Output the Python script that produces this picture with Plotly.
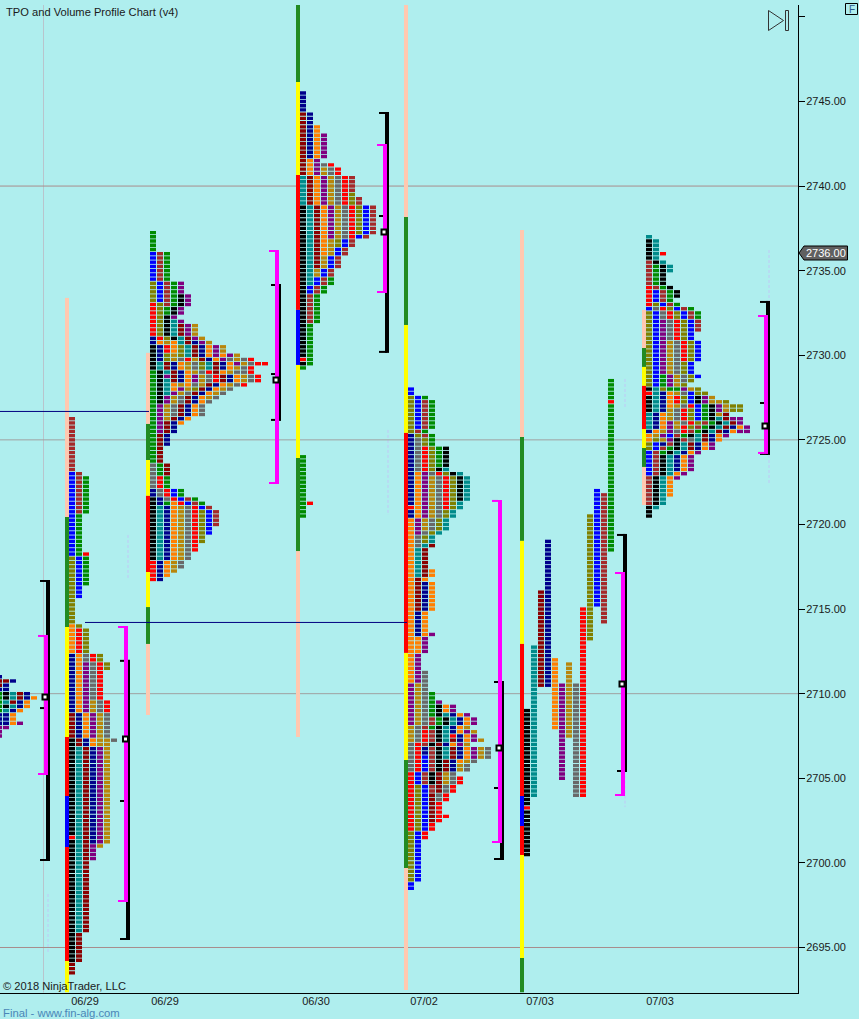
import plotly.graph_objects as go

W, H = 859, 1019
X_MAX = 798
Y_TOP_PX, Y_BOT_PX = 5, 992.5
P_TOP, P_BOT = 2750.70, 2692.34

BG = "#afeeee"
COLORS = {
    "b": "#0000ff", "n": "#00008b", "g": "#008b00", "r": "#ff0000", "m": "#8b0000",
    "B": "#a52a2a", "o": "#808000", "O": "#ff7f00", "p": "#800080", "y": "#b8860b",
    "t": "#008b8b", "k": "#000000", "s": "#696969",
    "P": "#ffc8b0", "G": "#228b22", "Y": "#ffff00",
}
TICK_SIZE = 0.25

# TPO profiles: (rows repeated, letter colours in that row)
A_ROWS = [(1, "n"), (1, "mmn"), (1, "mn"), (1, "nn"), (1, "gktmn"), (1, "gktmnO"), (1, "gtmnO"),
          (1, "gktnO"), (1, "gtnO"), (2, "nnO"), (1, "nnOp"), (1, "pp"), (2, "p")]
B_ROWS = [(13, "B"), (1, "bB"), (9, "bBg"), (9, "bg"), (1, "bgr"), (7, "obg"), (3, "ob"), (6, "o"),
          (1, "Oo"), (6, "Oro"), (2, "nOsro"), (2, "nOpsro"), (7, "nOpsr"), (3, "nOpysr"),
          (6, "mnOpys"), (1, "kmnOyys"), (1, "kmnOyy"), (21, "ktmnpy"), (1, "rtmnpy"), (1, "ktmnpy"),
          (1, "ktmpy"), (3, "ktmp"), (17, "ktm"), (7, "km"), (3, "m")]
C_ROWS = [(5, "g"), (7, "bBg"), (3, "obBgp"), (2, "obBgkp"), (1, "roBgkp"), (2, "rogkp"), (1, "rokp"),
          (1, "roktp"), (3, "roktmpy"), (1, "nroktmpy"), (1, "nOyOtmnpy"), (2, "knrOotmnOpy"),
          (1, "knoyotmnOpOpy"), (1, "knoysrymnOpsysr"), (1, "ktmnOysotmnOpysrr"), (1, "ktmnOysotmnOysr"),
          (1, "gktmnOysrmOyssr"), (1, "gkpmnOpysrmnOysr"), (1, "gktmnOpysrmnOysr"), (1, "gktOyOsymnOysr"),
          (1, "gktOpyomnOys"), (1, "gktpysmnOys"), (1, "gkpysmnOys"), (1, "gkpysmnOs"), (3, "gpysmnOs"),
          (1, "gpymnO"), (1, "gpmnO"), (2, "gpmn"), (3, "gmn"), (4, "gm"), (3, "sgm"), (3, "srg"),
          (2, "nsrbg"), (1, "knsrbBg"), (1, "kngOrbBg"), (1, "ktnOysrbB"), (4, "ktnOysrobB"),
          (2, "ktnOysrob"), (2, "ktnOysro"), (2, "ktnOysr"), (2, "ktnOys"), (2, "rnOys"), (1, "rnOy"),
          (1, "rnO"), (1, "rn")]
D_ROWS = [(5, "n"), (3, "mn"), (2, "mnO"), (6, "mnOp"), (1, "mOp"), (1, "mOpsr"), (2, "mOpysr"),
          (4, "tmOpysrB"), (1, "tmOpysro"), (2, "tmOpysroB"), (7, "ktmOpysrobB"), (1, "ktmOpysrbB"),
          (2, "ktmOyobB"), (2, "ktmOybB"), (3, "ktmybB"), (2, "ktybB"), (2, "ktbBg"), (2, "kbBg"),
          (7, "kBg"), (8, "kg"), (1, "rg"), (1, "kg"), (1, "g")]
D2_ROWS = [(11, "g"), (1, "gr"), (3, "g")]
E_ROWS = [(2, "b"), (1, "obg"), (7, "obBg"), (1, "oBg"), (1, "noBg"), (2, "nsog"), (5, "nsrogk"),
          (1, "nsrokt"), (1, "nOpsrokt"), (6, "nOpysrokt"), (1, "nOpysrot"), (1, "rOpysrot"),
          (2, "nOpysot"), (3, "Opysot"), (1, "Opsot"), (2, "Osot"), (1, "Ostm"), (5, "Otm"), (2, "OtmO"),
          (1, "OmO"), (7, "OmnO"), (5, "OnO"), (1, "OnOp"), (4, "OOp"), (4, "Op"), (3, "Ops"), (2, "pys"),
          (2, "pysg"), (1, "pysgp"), (2, "pysgkOp"), (1, "pysgktnOp"), (2, "pysBgktnOp"),
          (1, "ysBgktnOy"), (1, "ysrBktnOpy"), (1, "ysrBktrnOp"), (1, "ysrBktmnOpy"), (1, "srBkmnOpy"),
          (2, "srnBktmnOpys"), (1, "srbBktmnOpys"), (1, "srbBkmnOys"), (2, "srbBkmnys"), (1, "rbBkmys"),
          (2, "rbBkmysr"), (2, "robBmsr"), (2, "robmsr"), (3, "robmr"), (1, "robmrr"), (1, "robmr"),
          (2, "robr"), (2, "obr"), (10, "ob"), (2, "b")]
G_ROWS = [(1, "t"), (3, "kt"), (1, "ktr"), (1, "kt"), (1, "Bkt"), (2, "Bgkt"), (3, "Bgk"), (1, "rBgk"),
          (2, "rbBgk"), (1, "rbBg"), (1, "robBg"), (1, "bsrobBg"), (2, "obsrobBg"), (3, "obpsrobB"),
          (2, "obpsrob"), (5, "obpysrob"), (3, "obpysob"), (1, "obgpysob"), (1, "obgpyso"), (1, "obgpyo"),
          (1, "ktoggpyo"), (1, "rtnOysboo"), (1, "ktnOrobkpy"), (1, "ktnOrobkpyyo"),
          (1, "ktnOysrbgkpyoo"), (1, "ktnysrobgkpyoo"), (1, "tnOysrobgkym"), (1, "tnOysrobgktmpp"),
          (1, "tnOpysroBgktmp"), (1, "tnOpyroBgktmnOp"), (1, "nOypsrBgktmnOpp"), (1, "OypbBgktmnOp"),
          (1, "OoypkBstmnO"), (1, "obnBktmnOp"), (1, "obBgktmnOp"), (1, "bBgktnOp"), (4, "bBktnOp"),
          (1, "bBktOp"), (1, "BktOp"), (4, "BktO"), (2, "Bkt"), (1, "kt"), (2, "k")]

# name, rows, x of first column, price of top row
PROFILE_ROWS = [A_ROWS, B_ROWS, C_ROWS, D_ROWS, D2_ROWS, E_ROWS, G_ROWS]
PROFILE_X = [-1, 72, 153, 303, 303, 411, 649]
PROFILE_TOP = [2711.0, 2726.25, 2737.25, 2745.5, 2724.0, 2728.0, 2737.0]

# 07/03 first profile, stored by column: column number, colour, top price, rows
F_X = 527
F_COLUMNS = [(0, "k", 2709.0, 23), (0, "r", 2703.25, 1), (0, "k", 2703.0, 11), (1, "t", 2712.75, 36),
             (2, "m", 2716.0, 23), (3, "n", 2719.0, 35), (4, "O", 2712.0, 17), (5, "p", 2710.5, 23),
             (6, "y", 2711.75, 18), (7, "s", 2710.5, 27), (8, "r", 2715.0, 45), (9, "o", 2720.5, 30),
             (10, "b", 2722.0, 28), (11, "B", 2721.75, 31), (12, "g", 2728.5, 5), (12, "r", 2727.25, 1),
             (12, "g", 2727.0, 35)]

# period strips: x, breakpoints in price, colours
STRIP_X = [67, 148, 298, 406, 522, 644]
STRIP_PRICES = [
    [2733.39, 2720.44, 2713.94, 2707.44, 2703.95, 2700.94, 2694.20, 2692.34],
    [2730.14, 2725.94, 2723.81, 2721.69, 2717.19, 2715.12, 2712.94, 2708.74],
    [2750.70, 2746.15, 2740.66, 2732.68, 2729.43, 2723.93, 2718.43, 2707.44],
    [2750.70, 2738.17, 2731.79, 2725.41, 2712.41, 2706.08, 2699.70, 2692.49],
    [2737.41, 2725.17, 2719.03, 2712.94, 2703.95, 2702.18, 2700.47, 2694.38, 2692.34],
    [2732.68, 2730.43, 2729.31, 2728.19, 2725.64, 2724.52, 2723.40, 2721.15],
]
STRIP_COLORS = ["PGYrbrY", "PGYrYGP", "GYrbYGP", "PGYrYGP", "PGYrbrYG", "PGYrYGP"]

# value-area brackets
BLACK_X = [48, 128, 279, 387, 502, 625, 768]
BLACK_TOP = [2716.72, 2712.00, 2734.21, 2744.38, 2710.75, 2719.44, 2733.21]
BLACK_BOT = [2700.11, 2695.44, 2726.12, 2730.14, 2700.17, 2705.37, 2724.11]
BLACK_MID = [2709.15, 2703.66, 2728.89, 2738.23, 2704.43, 2705.43, 2727.18]
MAGENTA_X = [46, 126, 277, 385, 500, 623, 766]
MAGENTA_TOP = [2713.47, 2714.00, 2736.22, 2742.49, 2721.45, 2717.19, 2732.38]
MAGENTA_BOT = [2705.19, 2697.69, 2722.39, 2733.68, 2701.18, 2703.95, 2724.17]
POC_X = [45, 125.5, 276, 384, 499, 622, 765]
POC_P = [2709.81, 2707.32, 2728.54, 2737.29, 2706.79, 2710.57, 2725.82]

H_LINES = [2740, 2725, 2710, 2695]
H_LINE_COLORS = ["#a88c8c", "#a0a0a0", "#a0a0a0", "#a88c8c"]
NAVY_LINES = [(0, 149, 2726.68), (85, 407, 2714.21)]
FAINT_LINES = [(48, 2698.16, 2694.68), (128, 2719.38, 2716.72), (388, 2725.59, 2720.56),
               (625, 2728.60, 2726.94), (769, 2736.22, 2722.33), (625, 2709.0, 2703.3)]

Y_TICKS = [2695, 2700, 2705, 2710, 2715, 2720, 2725, 2730, 2735, 2740, 2745, 2750]
Y_LABELS = ["2695.00", "2700.00", "2705.00", "2710.00", "2715.00", "2720.00", "2725.00", "2730.00",
            "2735.00", "2740.00", "2745.00", ""]
X_TICKS = [85, 165, 316, 424, 540, 660]
X_LABELS = ["06/29", "06/29", "06/30", "07/02", "07/03", "07/03"]
LAST_PRICE = "2736.00"

PT = 16.92
CELL_H = 3.4 / PT
TICK_H = 2.0 / PT


def collect(layer, color, x, width, top, height):
    d = layer.setdefault(color, ([], [], [], []))
    d[0].append(x)
    d[1].append(width)
    d[2].append(top - height)
    d[3].append(height)


fig = go.Figure()


def flush(layer):
    for color, (xs, ws, bases, hs) in layer.items():
        fig.add_trace(go.Bar(x=xs, width=ws, base=bases, y=hs, marker=dict(color=color, line=dict(width=0)),
                             hoverinfo="skip", showlegend=False))


# strips
strips = {}
for x, prices, codes in zip(STRIP_X, STRIP_PRICES, STRIP_COLORS):
    for i, c in enumerate(codes):
        collect(strips, COLORS[c], x, 4, prices[i], prices[i] - prices[i + 1])
flush(strips)

# cells
cells = {}
for rows, x0, top in zip(PROFILE_ROWS, PROFILE_X, PROFILE_TOP):
    i = 0
    for n, codes in rows:
        for _ in range(n):
            price = top - i * TICK_SIZE
            for j, c in enumerate(codes):
                collect(cells, COLORS[c], x0 + 7 * j, 6, price + CELL_H / 2, CELL_H)
            i += 1
for col, c, top, n in F_COLUMNS:
    for i in range(n):
        collect(cells, COLORS[c], F_X + 7 * col, 6, top - i * TICK_SIZE + CELL_H / 2, CELL_H)
flush(cells)

# faint dashed lines, behind the brackets (bars are drawn in one layer, so these go on shapes below)
shapes = []
for x, p0, p1 in FAINT_LINES:
    shapes.append(dict(type="line", xref="x", yref="y", x0=x, x1=x, y0=p0, y1=p1,
                       line=dict(color="#bfc8f6", width=1, dash="3px,2px"), layer="below"))

# brackets
black = {}
for x, t, b, m in zip(BLACK_X, BLACK_TOP, BLACK_BOT, BLACK_MID):
    collect(black, "#000000", x, 4, t, t - b)
    collect(black, "#000000", x - 4, 8, t, TICK_H)
    collect(black, "#000000", x - 4, 8, b + TICK_H, TICK_H)
    collect(black, "#000000", x - 4, 8, m + TICK_H / 2, TICK_H)
flush(black)
mag = {}
for x, t, b in zip(MAGENTA_X, MAGENTA_TOP, MAGENTA_BOT):
    collect(mag, "#ff00ff", x, 4, t, t - b)
    collect(mag, "#ff00ff", x - 5, 6, t, TICK_H)
    collect(mag, "#ff00ff", x - 5, 6, b + TICK_H, TICK_H)
flush(mag)

fig.add_trace(go.Scatter(x=POC_X, y=POC_P, mode="markers", hoverinfo="skip", showlegend=False,
                         marker=dict(symbol="square", size=5, color="#ffffff", line=dict(color="#000000", width=2))))

for x0, x1, p in NAVY_LINES:
    fig.add_trace(go.Scatter(x=[x0, x1], y=[p, p], mode="lines", hoverinfo="skip", showlegend=False,
                             line=dict(color="#000080", width=1)))

for p, c in zip(H_LINES, H_LINE_COLORS):
    shapes.append(dict(type="line", xref="x", yref="y", x0=0, x1=X_MAX, y0=p, y1=p,
                       line=dict(color=c, width=1), layer="below"))
shapes.append(dict(type="line", xref="x", yref="paper", x0=43.5, x1=43.5, y0=1 - Y_BOT_PX / H, y1=1 - Y_TOP_PX / H,
                   line=dict(color="#b8c4cc", width=1), layer="below"))


def PX(x):
    return x / W


def PY(y):
    return 1 - y / H


def poly(pts):
    return "M " + " L ".join(f"{PX(x)} {PY(y)}" for x, y in pts) + " Z"


shapes += [
    dict(type="path", xref="paper", yref="paper", path=poly([(799, 253), (804, 246), (847.5, 246), (847.5, 260), (804, 260)]),
         fillcolor="#606060", line=dict(color="#000000", width=1)),
    dict(type="path", xref="paper", yref="paper", path=poly([(768.5, 10.5), (783.5, 20.5), (768.5, 30.5)]),
         line=dict(color="#333333", width=1)),
    dict(type="rect", xref="paper", yref="paper", x0=PX(785.5), x1=PX(788.5), y0=PY(30.5), y1=PY(10.5),
         line=dict(color="#333333", width=1)),
    dict(type="rect", xref="paper", yref="paper", x0=PX(845.5), x1=PX(857.5), y0=PY(14.5), y1=PY(3.5),
         line=dict(color="#000000", width=1)),
]

FONT = "Liberation Sans, Arial, sans-serif"


def note(text, x, y, color="#1a1a1a", size=11, anchor="left"):
    return dict(text=text, x=PX(x), y=PY(y), xref="paper", yref="paper", xanchor=anchor, yanchor="middle",
                showarrow=False, font=dict(family=FONT, size=size, color=color), borderpad=0, borderwidth=0)


annotations = [
    note("TPO and Volume Profile Chart (v4)", 6, 12, size=11.15),
    note("© 2018 NinjaTrader, LLC", 2.5, 986, size=11.15),
    note("Final - www.fin-alg.com", 3, 1012.5, color="#4a86b8", size=11.3),
    note(LAST_PRICE, 805.5, 253, color="#ffffff"),
    note("F", 851.5, 9, color="#2c5a8c", size=10, anchor="center"),
]

fig.update_layout(
    width=W, height=H, margin=dict(l=0, r=0, t=0, b=0), autosize=False,
    paper_bgcolor=BG, plot_bgcolor=BG, barmode="overlay", showlegend=False,
    font=dict(family=FONT, size=11, color="#1a1a1a"),
    shapes=shapes, annotations=annotations,
    xaxis=dict(domain=[0, X_MAX / W], range=[0, X_MAX], showgrid=False, zeroline=False, showline=True,
               linecolor="#000000", linewidth=1, ticks="", tickmode="array", tickvals=X_TICKS, ticktext=X_LABELS,
               tickangle=0, fixedrange=True, ticklabelstandoff=-2),
    yaxis=dict(domain=[1 - Y_BOT_PX / H, 1 - Y_TOP_PX / H], range=[P_BOT, P_TOP], side="right", showgrid=False,
               zeroline=False, showline=True, linecolor="#000000", linewidth=1, ticks="outside", ticklen=6,
               tickcolor="#000000", tickmode="array", tickvals=Y_TICKS, ticktext=Y_LABELS, fixedrange=True,
               ticklabelstandoff=-1),
)

fig.write_html("out.html", config=dict(displayModeBar=False),
               post_script="document.body.style.margin='0';document.body.style.background='#afeeee';")
